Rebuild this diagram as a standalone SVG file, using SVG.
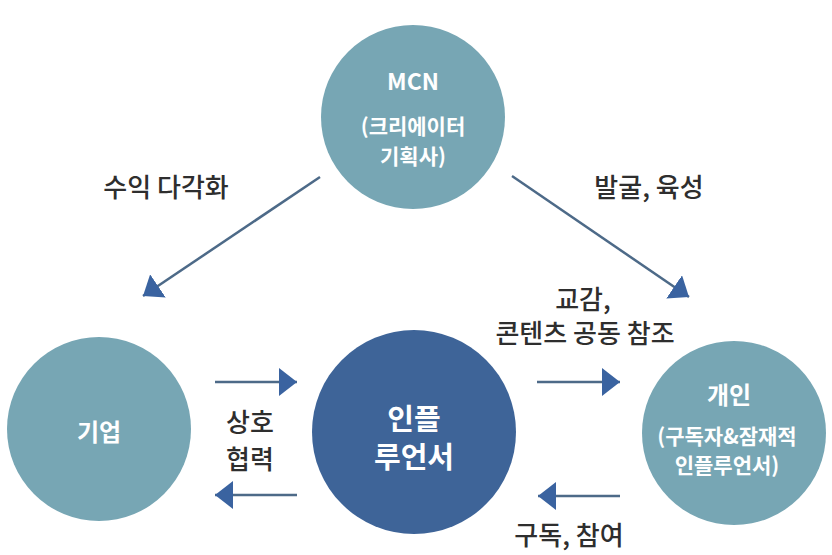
<svg xmlns="http://www.w3.org/2000/svg" width="832" height="555" viewBox="0 0 832 555">
<style>
.teal{fill:#77a6b4}
.navy{fill:#3e6498}
.nt{fill:#ffffff;font-family:"Noto Sans CJK KR","Noto Sans",sans-serif;font-weight:700;text-anchor:middle;dominant-baseline:central}
.lb{fill:#2e2e2e;font-family:"Noto Sans CJK KR","Noto Sans",sans-serif;font-weight:500;font-size:26px;text-anchor:middle;dominant-baseline:central}
.ln{stroke:#4d6a88;stroke-width:2.5;fill:none}
</style>
<defs>
<marker id="ah" markerUnits="userSpaceOnUse" markerWidth="20" markerHeight="28" refX="18" refY="14" orient="auto">
<path d="M0,0 L18,14 L0,28 Z" fill="#3a63a0"/>
</marker>
</defs>
<rect width="832" height="555" fill="#ffffff"/>
<g id="connectors">
<line class="ln" x1="320" y1="177" x2="143" y2="296" marker-end="url(#ah)"/>
<line class="ln" x1="512" y1="176" x2="689" y2="297" marker-end="url(#ah)"/>
<line class="ln" x1="215" y1="382" x2="297" y2="382" marker-end="url(#ah)"/>
<line class="ln" x1="297" y1="495" x2="215" y2="495" marker-end="url(#ah)"/>
<line class="ln" x1="537" y1="382" x2="620" y2="382" marker-end="url(#ah)"/>
<line class="ln" x1="620" y1="496" x2="538" y2="496" marker-end="url(#ah)"/>
</g>
<g id="labels">
<text class="lb" x="166" y="185">수익 다각화</text>
<text class="lb" x="649" y="185">발굴, 육성</text>
<text class="lb" x="583" y="297">교감,</text>
<text class="lb" x="585" y="331">콘텐츠 공동 참조</text>
<text class="lb" x="250" y="420">상호</text>
<text class="lb" x="250" y="457">협력</text>
<text class="lb" x="569" y="533">구독, 참여</text>
</g>
<g id="node-mcn">
<circle class="teal" cx="413" cy="117" r="92"/>
<text class="nt" x="413" y="80" font-size="23">MCN</text>
<text class="nt" x="413" y="125" font-size="21">(크리에이터</text>
<text class="nt" x="413" y="155" font-size="21">기획사)</text>
</g>
<g id="node-company">
<circle class="teal" cx="99" cy="429" r="92"/>
<text class="nt" x="99" y="430" font-size="24">기업</text>
</g>
<g id="node-individual">
<circle class="teal" cx="734" cy="433" r="92"/>
<text class="nt" x="729" y="393" font-size="24">개인</text>
<text class="nt" x="727" y="435" font-size="21">(구독자&amp;잠재적</text>
<text class="nt" x="727" y="464" font-size="21">인플루언서)</text>
</g>
<g id="node-influencer">
<circle class="navy" cx="414" cy="432" r="102"/>
<text class="nt" x="414" y="417" font-size="29">인플</text>
<text class="nt" x="414" y="455" font-size="29">루언서</text>
</g>
</svg>
